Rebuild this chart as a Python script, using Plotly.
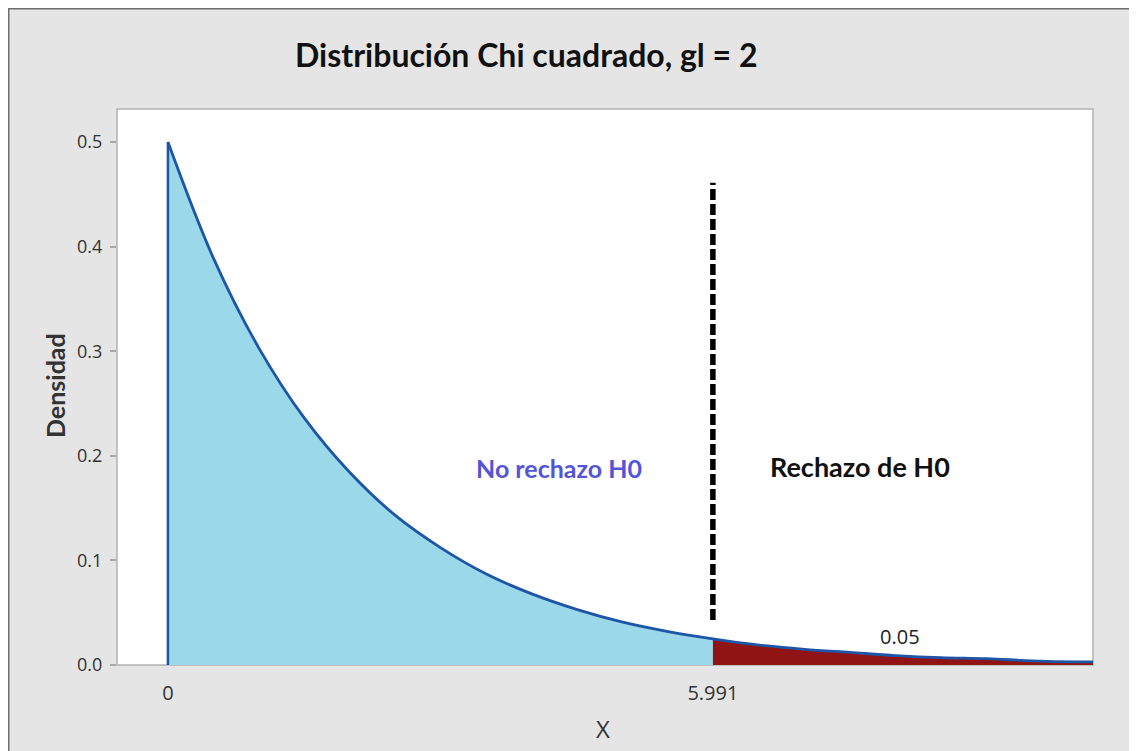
import plotly.graph_objects as go

# ---- data ----
x_vals = [0.0, 0.5, 1.0, 1.5, 2.0, 2.5, 3.0, 3.5, 4.0, 4.5, 5.0, 5.5, 5.991,
          6.5, 7.0, 7.5, 8.0, 8.5, 9.0, 9.5, 10.0, 10.17]
dens_vals = [0.500, 0.389, 0.303, 0.236, 0.184, 0.143, 0.112, 0.087, 0.068, 0.053,
             0.041, 0.032, 0.025, 0.019, 0.015, 0.012, 0.009, 0.007, 0.006, 0.004,
             0.003, 0.003]
critical = 5.991
alpha_label = "0.05"
y_ticks = [0.0, 0.1, 0.2, 0.3, 0.4, 0.5]
x_ticks = [0, critical]
x_ticktext = ["0", "5.991"]
crit_line_y = [0.043, 0.461]

# ---- split regions ----
ci = x_vals.index(critical)
x_acc, y_acc = x_vals[:ci + 1], dens_vals[:ci + 1]
x_rej, y_rej = x_vals[ci:], dens_vals[ci:]

BLUE_LINE = "#1d56a6"
BLUE_FILL = "#9bd8ea"
RED_FILL = "#911414"

fig = go.Figure()
fig.add_trace(go.Scatter(x=x_acc, y=y_acc, mode="lines", line=dict(width=0, shape="spline"),
                         fill="tozeroy", fillcolor=BLUE_FILL, hoverinfo="skip", showlegend=False))
fig.add_trace(go.Scatter(x=x_rej, y=y_rej, mode="lines", line=dict(width=0, shape="spline"),
                         fill="tozeroy", fillcolor=RED_FILL, hoverinfo="skip", showlegend=False))
fig.add_trace(go.Scatter(x=x_vals, y=dens_vals, mode="lines",
                         line=dict(color=BLUE_LINE, width=2.8, shape="spline"), showlegend=False))
fig.add_trace(go.Scatter(x=[x_vals[0], x_vals[0]], y=[0, dens_vals[0]], mode="lines",
                         line=dict(color=BLUE_LINE, width=2.5), showlegend=False))
fig.add_trace(go.Scatter(x=[critical, critical], y=crit_line_y, mode="lines",
                         line=dict(color="black", width=5.5, dash="11px,4px"), showlegend=False))

# ---- layout geometry (figure pixels; page has an 8px body margin) ----
FW, FH = 1128, 751
L, R, T, B = 109, 1085, 101, 657
W, H = R - L, B - T
OFF = 8
def px(xp_page):
    return (xp_page - OFF - L) / W
def py(yp_page):
    return (B - (yp_page - OFF)) / H

fig.add_shape(type="rect", xref="paper", yref="paper", layer="below",
              x0=-L / W, x1=(FW - L) / W, y0=(B - FH - 10) / H, y1=B / H,
              fillcolor="#e5e5e5", line=dict(color="#6e6e6e", width=3))
fig.add_shape(type="rect", xref="paper", yref="paper", layer="below",
              x0=0, x1=1, y0=0, y1=1,
              fillcolor="white", line=dict(color="#b2b2b2", width=1.5))

TXT = "#333333"
def ann(**kw):
    kw.setdefault("showarrow", False)
    kw.setdefault("xanchor", "center")
    kw.setdefault("yanchor", "middle")
    fig.add_annotation(**kw)

ann(text="<b>Distribución Chi cuadrado, gl = 2</b>", xref="paper", yref="paper",
    x=px(526), y=py(55), font=dict(family="Lato", size=32, color="#111111"))
ann(text="<b>Densidad</b>", xref="paper", yref="paper", x=px(55), y=py(386),
    textangle=-90, font=dict(family="Lato", size=25, color=TXT))
ann(text="X", xref="paper", yref="paper", x=px(603), y=py(728),
    font=dict(family="Open Sans", size=24, color=TXT))
ann(text="<b>No rechazo H0</b>", x=4.30, y=0.188,
    font=dict(family="Lato", size=25, color="#5454d6"))
ann(text="<b>Rechazo de H0</b>", x=7.61, y=0.190,
    font=dict(family="Lato", size=27, color="#111111"))
ann(text=alpha_label, x=8.05, y=0.027,
    font=dict(family="Open Sans", size=20, color="#222222"))

fig.update_layout(
    width=FW, height=FH,
    margin=dict(l=L, r=FW - R, t=T, b=FH - B),
    paper_bgcolor="white", plot_bgcolor="rgba(0,0,0,0)",
    showlegend=False,
)
fig.update_xaxes(range=[-0.56, 10.17], tickvals=x_ticks, ticktext=x_ticktext,
                 showgrid=False, zeroline=False, showline=False, ticks="",
                 ticklabelstandoff=14,
                 tickfont=dict(family="Open Sans", size=20, color=TXT))
fig.update_yaxes(range=[0, 0.5316], tickvals=y_ticks, tickformat=".1f",
                 showgrid=False, zeroline=False, showline=False,
                 ticks="outside", ticklen=6, tickcolor="#a8a8a8", tickwidth=1.5,
                 ticklabelstandoff=4,
                 tickfont=dict(family="Open Sans", size=18, color=TXT))

fig.write_html("out.html")
